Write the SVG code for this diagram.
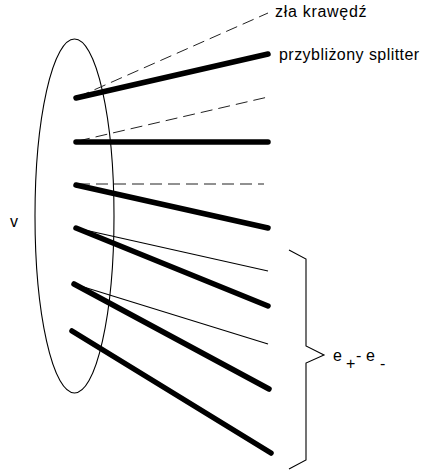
<svg xmlns="http://www.w3.org/2000/svg" width="423" height="474" viewBox="0 0 423 474">
<style>
.thick{stroke:#000;stroke-width:5.5;stroke-linecap:round;fill:none}
.thin{stroke:#000;stroke-width:1.1;fill:none}
.dash{stroke:#222;stroke-width:1;stroke-dasharray:12 6;fill:none}
.lbl{font-family:"Liberation Sans",Arial,sans-serif;font-size:16px;fill:#000}
</style>
<rect width="423" height="474" fill="#fff"/>
<g id="set-v">
<ellipse cx="74.5" cy="216" rx="39.5" ry="177" class="thin"/>
<text class="lbl" x="10" y="227">v</text>
</g>
<g id="connectors">
<line class="dash" x1="78" y1="97" x2="268" y2="13"/>
<line class="dash" x1="78" y1="141" x2="268" y2="97"/>
<line class="dash" x1="78" y1="184" x2="264" y2="184"/>
<line class="thin" x1="76" y1="228" x2="268" y2="271"/>
<line class="thin" x1="74" y1="284" x2="268" y2="344"/>
<line class="thick" x1="76" y1="98" x2="268" y2="54"/>
<line class="thick" x1="76" y1="142" x2="268" y2="142"/>
<line class="thick" x1="76" y1="185" x2="268" y2="228"/>
<line class="thick" x1="76" y1="228" x2="268" y2="306"/>
<line class="thick" x1="74" y1="284" x2="269" y2="389"/>
<line class="thick" x1="72" y1="331" x2="271" y2="453"/>
</g>
<g id="brace">
<polyline class="thin" points="289,250 306,259 306,346 324,355 306,363 306,460 289,469"/>
</g>
<g id="labels">
<text class="lbl" x="275" y="17" letter-spacing="0.7">zła krawędź</text>
<text class="lbl" x="279" y="60" letter-spacing="0.45">przybliżony splitter</text>
<text class="lbl" x="333" y="361" font-size="18">e</text>
<text class="lbl" x="346" y="369" font-size="13">+</text>
<text class="lbl" x="356" y="361" font-size="18">-</text>
<text class="lbl" x="366" y="361" font-size="18">e</text>
<text class="lbl" x="380" y="369" font-size="13">-</text>
</g>
</svg>
